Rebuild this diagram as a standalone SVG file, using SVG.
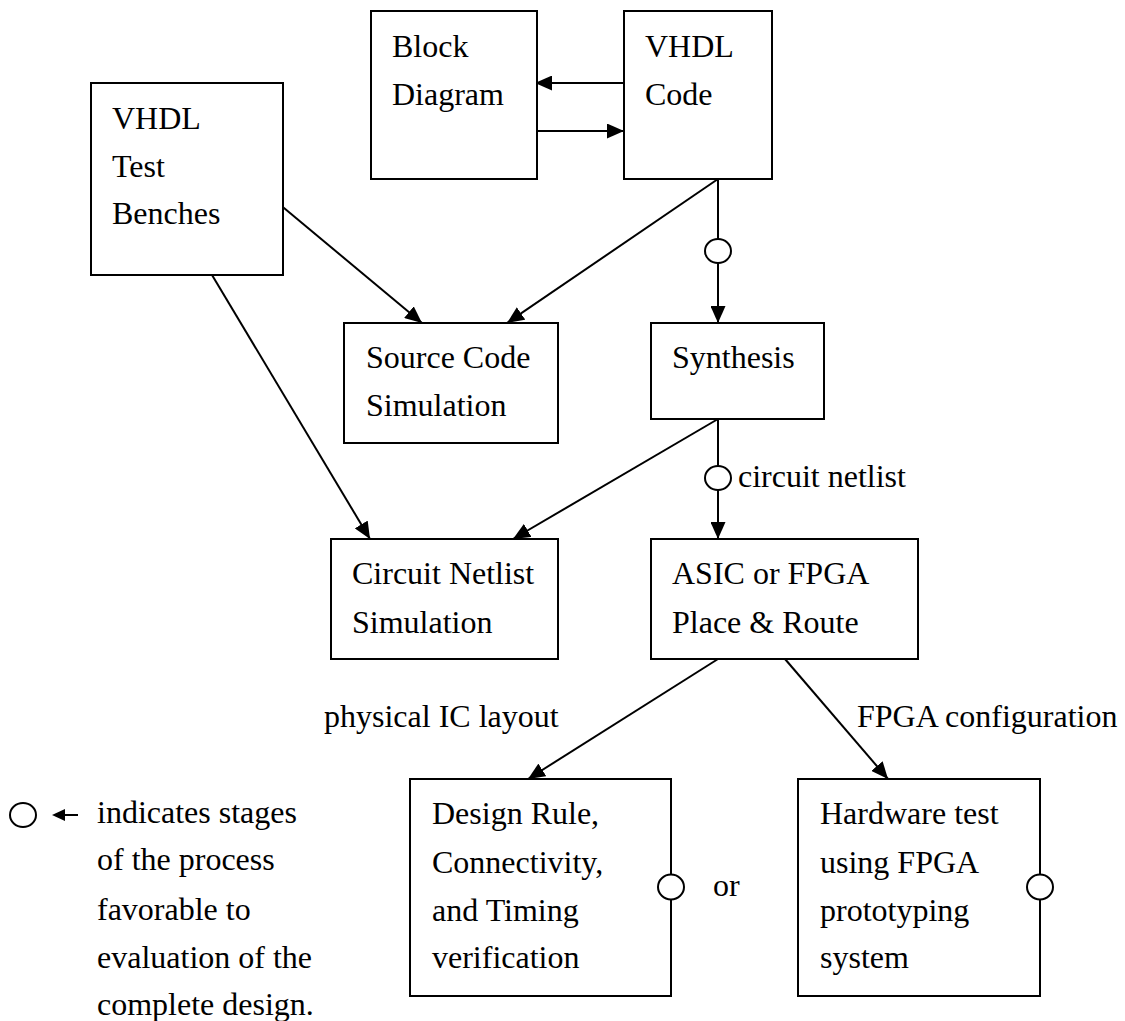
<svg xmlns="http://www.w3.org/2000/svg" width="1125" height="1021" viewBox="0 0 1125 1021">
<style>
.box{fill:#fff;stroke:#000;stroke-width:2}
.t{font-family:"Liberation Serif","Times New Roman",serif;font-size:32px;fill:#000}
.c{fill:none;stroke:#000;stroke-width:2}
.o{fill:#fff;stroke:#000;stroke-width:2}
</style>
<defs>
<marker id="ah" markerUnits="userSpaceOnUse" markerWidth="17" markerHeight="15" refX="17" refY="7.5" orient="auto" viewBox="0 0 17 15">
<path d="M0,0 L17,7.5 L0,15 z" fill="#000"/>
</marker>
</defs>
<g id="connectors">
<line class="c" x1="624" y1="83" x2="535" y2="83" marker-end="url(#ah)"/>
<line class="c" x1="531" y1="131" x2="624" y2="131" marker-end="url(#ah)"/>
<line class="c" x1="718" y1="179" x2="718" y2="323" marker-end="url(#ah)"/>
<line class="c" x1="718" y1="179" x2="507" y2="323" marker-end="url(#ah)"/>
<line class="c" x1="278" y1="203" x2="422" y2="323" marker-end="url(#ah)"/>
<line class="c" x1="212" y1="275" x2="370" y2="539" marker-end="url(#ah)"/>
<line class="c" x1="718" y1="419" x2="718" y2="539" marker-end="url(#ah)"/>
<line class="c" x1="718" y1="419" x2="513" y2="539" marker-end="url(#ah)"/>
<line class="c" x1="718" y1="659" x2="528" y2="779" marker-end="url(#ah)"/>
<line class="c" x1="785" y1="659" x2="888" y2="779" marker-end="url(#ah)"/>
<ellipse class="o" cx="718" cy="251" rx="13" ry="12"/>
<ellipse class="o" cx="718" cy="478" rx="13" ry="12"/>
</g>
<g id="block-diagram">
<rect class="box" x="371" y="11" width="166" height="168"/>
<text class="t" x="392" y="57">Block</text>
<text class="t" x="392" y="105">Diagram</text>
</g>
<g id="vhdl-code">
<rect class="box" x="624" y="11" width="148" height="168"/>
<text class="t" x="645" y="57">VHDL</text>
<text class="t" x="645" y="105">Code</text>
</g>
<g id="test-benches">
<rect class="box" x="91" y="83" width="192" height="192"/>
<text class="t" x="112" y="129">VHDL</text>
<text class="t" x="112" y="177">Test</text>
<text class="t" x="112" y="224">Benches</text>
</g>
<g id="source-code-simulation">
<rect class="box" x="344" y="323" width="214" height="120"/>
<text class="t" x="366" y="368">Source Code</text>
<text class="t" x="366" y="416">Simulation</text>
</g>
<g id="synthesis">
<rect class="box" x="651" y="323" width="173" height="96"/>
<text class="t" x="672" y="368">Synthesis</text>
</g>
<g id="circuit-netlist-label">
<text class="t" x="738" y="487">circuit netlist</text>
</g>
<g id="circuit-netlist-simulation">
<rect class="box" x="331" y="539" width="227" height="120"/>
<text class="t" x="352" y="584">Circuit Netlist</text>
<text class="t" x="352" y="633">Simulation</text>
</g>
<g id="place-route">
<rect class="box" x="651" y="539" width="267" height="120"/>
<text class="t" x="672" y="584">ASIC or FPGA</text>
<text class="t" x="672" y="633">Place &amp; Route</text>
</g>
<g id="labels">
<text class="t" x="324" y="727">physical IC layout</text>
<text class="t" x="857" y="727">FPGA configuration</text>
<text class="t" x="713" y="896">or</text>
</g>
<g id="design-rule">
<rect class="box" x="410" y="779" width="261" height="217"/>
<text class="t" x="432" y="824">Design Rule,</text>
<text class="t" x="432" y="873">Connectivity,</text>
<text class="t" x="432" y="921">and Timing</text>
<text class="t" x="432" y="968">verification</text>
<ellipse class="o" cx="671" cy="887" rx="13" ry="12.5"/>
</g>
<g id="hardware-test">
<rect class="box" x="798" y="779" width="242" height="217"/>
<text class="t" x="820" y="824">Hardware test</text>
<text class="t" x="820" y="873">using FPGA</text>
<text class="t" x="820" y="921">prototyping</text>
<text class="t" x="820" y="968">system</text>
<ellipse class="o" cx="1040" cy="887" rx="13" ry="12.5"/>
</g>
<g id="legend">
<ellipse class="o" cx="23" cy="815" rx="13" ry="12"/>
<line class="c" x1="78" y1="815" x2="62" y2="815"/>
<path d="M52,815 L65,809 L65,821 z" fill="#000"/>
<text class="t" x="97" y="823">indicates stages</text>
<text class="t" x="97" y="870">of the process</text>
<text class="t" x="97" y="920">favorable to</text>
<text class="t" x="97" y="968">evaluation of the</text>
<text class="t" x="97" y="1015">complete design.</text>
</g>
</svg>
